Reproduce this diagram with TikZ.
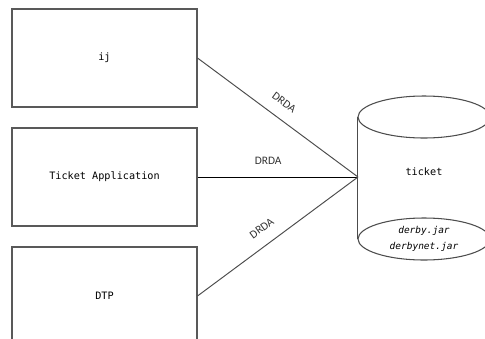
\documentclass[tikz,border=0pt]{standalone}
\usepackage{fontspec}
\setmonofont{DejaVu Sans Mono}
\newfontfamily\protofont{Carlito}
\usetikzlibrary{shapes.geometric}

\tikzset{
  app/.style={draw=black!65, line width=0.6pt, minimum width=3.7cm, minimum height=1.96cm,
    font=\ttfamily\fontsize{5.8}{7}\selectfont},
  link/.style={draw=black!70, line width=0.55pt},
  proto/.style={font=\protofont\fontsize{6.5}{7}\selectfont, above=3.5pt, sloped, text=black!80},
  disk/.style={ellipse, draw=black!70, line width=0.6pt, minimum width=2.64cm,
    minimum height=0.84cm, inner sep=0pt}
}

\begin{document}
\begin{tikzpicture}[x=0.02cm,y=-0.02cm]

  % Frame (the last box runs off the bottom)
  \path[use as bounding box, clip] (0,0) rectangle (485,339);

  % Clients
  \node[app] (ij)  at (104.5,58)  {ij};
  \node[app] (app) at (104.5,177) {Ticket Application};
  \node[app] (dtp) at (104.5,296) {DTP};

  % Database
  \node[disk] (lid) at (424,117) {};
  \node[disk, font=\ttfamily\itshape\fontsize{5.4}{9}\selectfont, align=center]
    (jars) at (424,239) {derby.jar\\derbynet.jar};
  \draw[link] (lid.west) -- (jars.west);
  \draw[link] (lid.east) -- (jars.east);
  \node[font=\ttfamily\fontsize{5.8}{7}\selectfont] (db) at (424,172) {ticket};

  % Connections
  \coordinate (hub) at (358,177);
  \draw[link] (ij.east)  -- (hub) node[proto, pos=0.48] {DRDA};
  \draw[link, draw=black] (app.east) -- (hub) node[proto, pos=0.44] {DRDA};
  \draw[link] (dtp.east) -- (hub) node[proto, pos=0.46] {DRDA};

\end{tikzpicture}
\end{document}
